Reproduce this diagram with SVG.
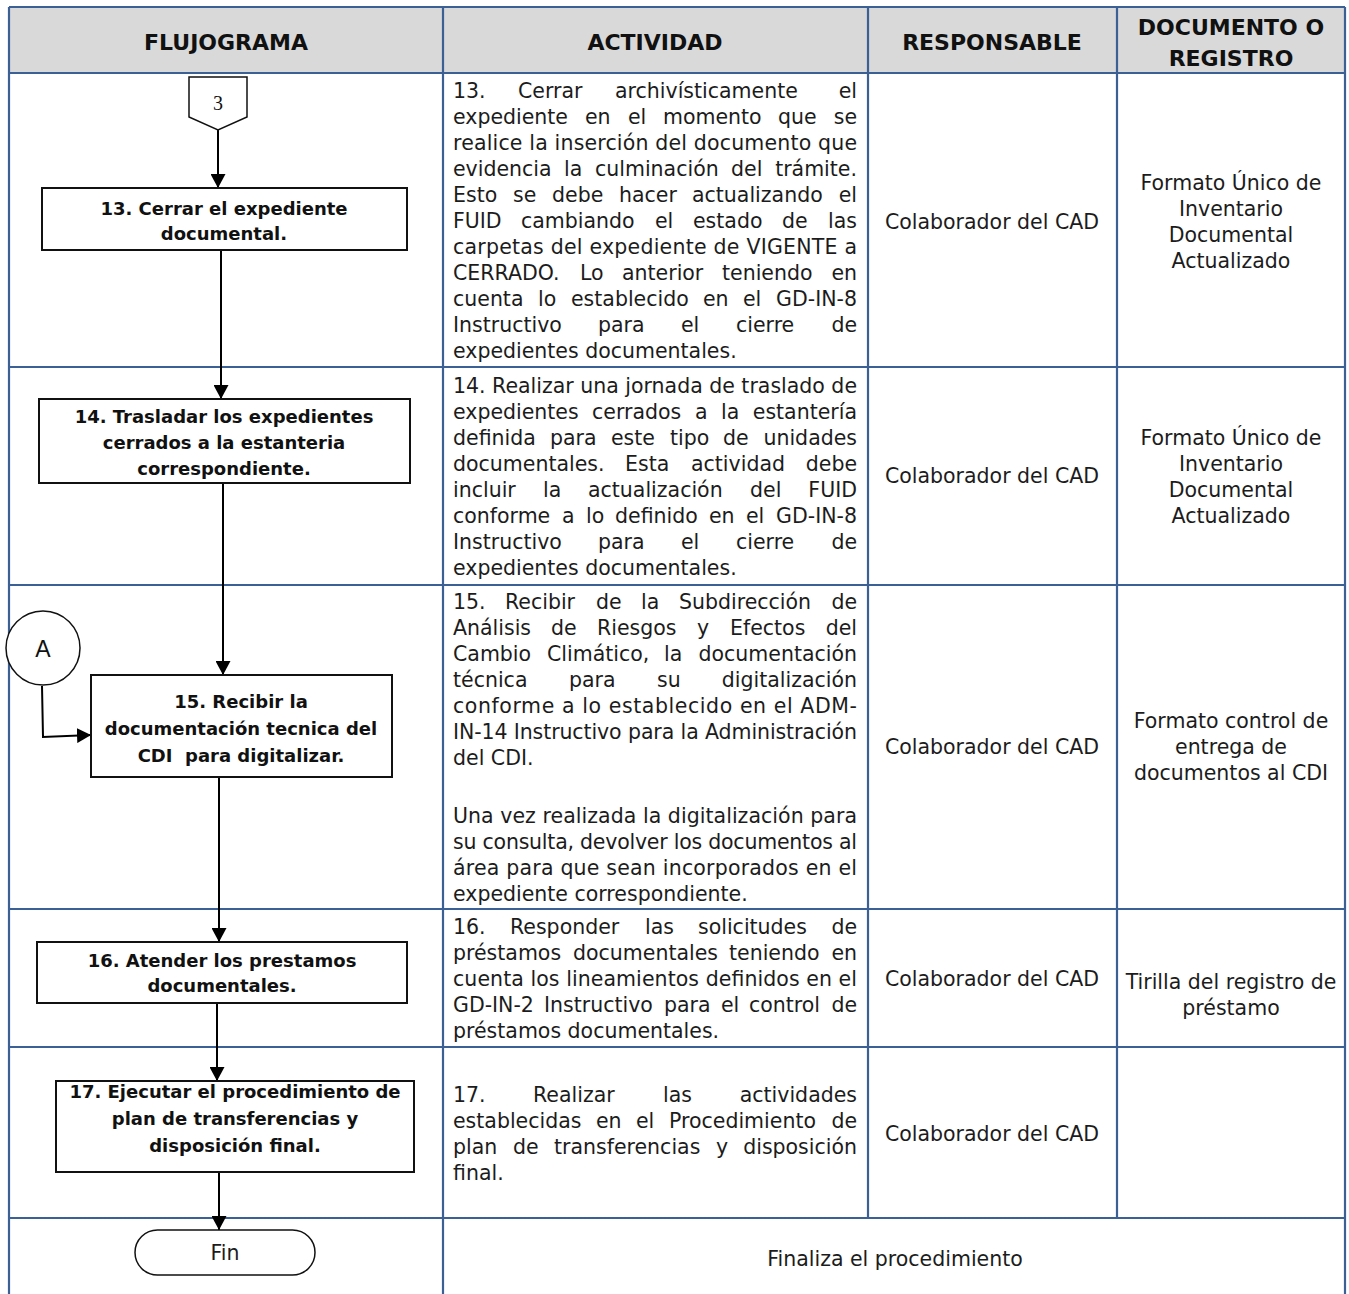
<svg xmlns="http://www.w3.org/2000/svg" width="1349" height="1294" viewBox="0 0 1349 1294">
<style>
.grid{stroke:#3a6096;stroke-width:2.2;fill:none}
.hd{font-family:"DejaVu Sans",sans-serif;font-weight:bold;font-size:22px;fill:#111;text-anchor:middle}
.b{font-family:"DejaVu Sans",sans-serif;font-size:20.5px;fill:#1c1c1c}
.c{text-anchor:middle}
.e{text-anchor:end}
.box{fill:#fff;stroke:#111;stroke-width:2}
.bt{font-family:"DejaVu Sans",sans-serif;font-weight:bold;font-size:18px;fill:#111;text-anchor:middle}
.ln{stroke:#000;stroke-width:2;fill:none;marker-end:url(#ah)}
</style>
<defs>
<marker id="ah" viewBox="0 0 14 15" refX="14" refY="7.5" markerWidth="14" markerHeight="15" markerUnits="userSpaceOnUse" orient="auto">
<path d="M0,0 L14,7.5 L0,15 z" fill="#000"/>
</marker>
</defs>
<rect x="0" y="0" width="1349" height="1294" fill="#fff"/>
<g id="table">
<rect x="9" y="7" width="1336" height="66" fill="#d9d9d9"/>
<path class="grid" d="M9,7 H1345 M9,73 H1345 M9,367 H1345 M9,585 H1345 M9,909 H1345 M9,1047 H1345 M9,1218 H1345 M9,7 V1294 M1345,7 V1294 M443,7 V1294 M868,7 V1218 M1117,7 V1218"/>
<text class="hd" x="226" y="50">FLUJOGRAMA</text>
<text class="hd" x="655" y="50">ACTIVIDAD</text>
<text class="hd" x="992" y="50">RESPONSABLE</text>
<text class="hd" x="1231" y="35">DOCUMENTO O</text>
<text class="hd" x="1231" y="66">REGISTRO</text>
</g>
<g id="actividad">
<text class="b" y="98"><tspan x="453">13.</tspan><tspan x="518">Cerrar</tspan><tspan x="615">archivísticamente</tspan><tspan x="857" class="e">el</tspan></text>
<text class="b" y="124"><tspan x="453">expediente</tspan><tspan x="585">en</tspan><tspan x="628">el</tspan><tspan x="663">momento</tspan><tspan x="778">que</tspan><tspan x="857" class="e">se</tspan></text>
<text class="b" x="453" y="150" textLength="404" lengthAdjust="spacing">realice la inserción del documento que</text>
<text class="b" y="176"><tspan x="453">evidencia</tspan><tspan x="564">la</tspan><tspan x="595">culminación</tspan><tspan x="731">del</tspan><tspan x="857" class="e">trámite.</tspan></text>
<text class="b" y="202"><tspan x="453">Esto</tspan><tspan x="513">se</tspan><tspan x="552">debe</tspan><tspan x="619">hacer</tspan><tspan x="692">actualizando</tspan><tspan x="857" class="e">el</tspan></text>
<text class="b" y="228"><tspan x="453">FUID</tspan><tspan x="521">cambiando</tspan><tspan x="655">el</tspan><tspan x="693">estado</tspan><tspan x="782">de</tspan><tspan x="857" class="e">las</tspan></text>
<text class="b" x="453" y="254" textLength="404" lengthAdjust="spacing">carpetas del expediente de VIGENTE a</text>
<text class="b" y="280"><tspan x="453">CERRADO.</tspan><tspan x="580">Lo</tspan><tspan x="622">anterior</tspan><tspan x="722">teniendo</tspan><tspan x="857" class="e">en</tspan></text>
<text class="b" y="306"><tspan x="453">cuenta</tspan><tspan x="538">lo</tspan><tspan x="571">establecido</tspan><tspan x="703">en</tspan><tspan x="743">el</tspan><tspan x="857" class="e">GD-IN-8</tspan></text>
<text class="b" y="332"><tspan x="453">Instructivo</tspan><tspan x="598">para</tspan><tspan x="681">el</tspan><tspan x="736">cierre</tspan><tspan x="857" class="e">de</tspan></text>
<text class="b" x="453" y="358">expedientes documentales.</text>

<text class="b" x="453" y="393" textLength="404" lengthAdjust="spacing">14. Realizar una jornada de traslado de</text>
<text class="b" y="419"><tspan x="453">expedientes</tspan><tspan x="592">cerrados</tspan><tspan x="695">a</tspan><tspan x="721">la</tspan><tspan x="857" class="e">estantería</tspan></text>
<text class="b" y="445"><tspan x="453">definida</tspan><tspan x="550">para</tspan><tspan x="611">este</tspan><tspan x="670">tipo</tspan><tspan x="723">de</tspan><tspan x="857" class="e">unidades</tspan></text>
<text class="b" y="471"><tspan x="453">documentales.</tspan><tspan x="625">Esta</tspan><tspan x="691">actividad</tspan><tspan x="857" class="e">debe</tspan></text>
<text class="b" y="497"><tspan x="453">incluir</tspan><tspan x="543">la</tspan><tspan x="588">actualización</tspan><tspan x="750">del</tspan><tspan x="857" class="e">FUID</tspan></text>
<text class="b" y="523"><tspan x="453">conforme</tspan><tspan x="562">a</tspan><tspan x="586">lo</tspan><tspan x="615">definido</tspan><tspan x="709">en</tspan><tspan x="746">el</tspan><tspan x="857" class="e">GD-IN-8</tspan></text>
<text class="b" y="549"><tspan x="453">Instructivo</tspan><tspan x="598">para</tspan><tspan x="681">el</tspan><tspan x="736">cierre</tspan><tspan x="857" class="e">de</tspan></text>
<text class="b" x="453" y="575">expedientes documentales.</text>

<text class="b" y="609"><tspan x="453">15.</tspan><tspan x="505">Recibir</tspan><tspan x="596">de</tspan><tspan x="641">la</tspan><tspan x="679">Subdirección</tspan><tspan x="857" class="e">de</tspan></text>
<text class="b" y="635"><tspan x="453">Análisis</tspan><tspan x="551">de</tspan><tspan x="597">Riesgos</tspan><tspan x="697">y</tspan><tspan x="730">Efectos</tspan><tspan x="857" class="e">del</tspan></text>
<text class="b" y="661"><tspan x="453">Cambio</tspan><tspan x="547">Climático,</tspan><tspan x="664">la</tspan><tspan x="857" class="e">documentación</tspan></text>
<text class="b" y="687"><tspan x="453">técnica</tspan><tspan x="569">para</tspan><tspan x="657">su</tspan><tspan x="857" class="e">digitalización</tspan></text>
<text class="b" x="453" y="713" textLength="404" lengthAdjust="spacing">conforme a lo establecido en el ADM-</text>
<text class="b" x="453" y="739" textLength="404" lengthAdjust="spacing">IN-14 Instructivo para la Administración</text>
<text class="b" x="453" y="765">del CDI.</text>
<text class="b" x="453" y="823" textLength="404" lengthAdjust="spacing">Una vez realizada la digitalización para</text>
<text class="b" x="453" y="849" textLength="404" lengthAdjust="spacing">su consulta, devolver los documentos al</text>
<text class="b" x="453" y="875" textLength="404" lengthAdjust="spacing">área para que sean incorporados en el</text>
<text class="b" x="453" y="901">expediente correspondiente.</text>

<text class="b" y="934"><tspan x="453">16.</tspan><tspan x="510">Responder</tspan><tspan x="645">las</tspan><tspan x="698">solicitudes</tspan><tspan x="857" class="e">de</tspan></text>
<text class="b" y="960"><tspan x="453">préstamos</tspan><tspan x="573">documentales</tspan><tspan x="729">teniendo</tspan><tspan x="857" class="e">en</tspan></text>
<text class="b" x="453" y="986" textLength="404" lengthAdjust="spacing">cuenta los lineamientos definidos en el</text>
<text class="b" y="1012"><tspan x="453">GD-IN-2</tspan><tspan x="544">Instructivo</tspan><tspan x="664">para</tspan><tspan x="721">el</tspan><tspan x="749">control</tspan><tspan x="857" class="e">de</tspan></text>
<text class="b" x="453" y="1038">préstamos documentales.</text>

<text class="b" y="1102"><tspan x="453">17.</tspan><tspan x="533">Realizar</tspan><tspan x="663">las</tspan><tspan x="857" class="e">actividades</tspan></text>
<text class="b" y="1128"><tspan x="453">establecidas</tspan><tspan x="596">en</tspan><tspan x="636">el</tspan><tspan x="669">Procedimiento</tspan><tspan x="857" class="e">de</tspan></text>
<text class="b" y="1154"><tspan x="453">plan</tspan><tspan x="513">de</tspan><tspan x="554">transferencias</tspan><tspan x="716">y</tspan><tspan x="857" class="e">disposición</tspan></text>
<text class="b" x="453" y="1180">final.</text>

<text class="b c" x="895" y="1266">Finaliza el procedimiento</text>
</g>
<g id="responsable">
<text class="b c" x="992" y="229">Colaborador del CAD</text>
<text class="b c" x="992" y="483">Colaborador del CAD</text>
<text class="b c" x="992" y="754">Colaborador del CAD</text>
<text class="b c" x="992" y="986">Colaborador del CAD</text>
<text class="b c" x="992" y="1141">Colaborador del CAD</text>
</g>
<g id="documento">
<text class="b c" x="1231" y="190">Formato Único de</text>
<text class="b c" x="1231" y="216">Inventario</text>
<text class="b c" x="1231" y="242">Documental</text>
<text class="b c" x="1231" y="268">Actualizado</text>
<text class="b c" x="1231" y="445">Formato Único de</text>
<text class="b c" x="1231" y="471">Inventario</text>
<text class="b c" x="1231" y="497">Documental</text>
<text class="b c" x="1231" y="523">Actualizado</text>
<text class="b c" x="1231" y="728">Formato control de</text>
<text class="b c" x="1231" y="754">entrega de</text>
<text class="b c" x="1231" y="780">documentos al CDI</text>
<text class="b c" x="1231" y="989">Tirilla del registro de</text>
<text class="b c" x="1231" y="1015">préstamo</text>
</g>
<g id="connectors">
<path class="ln" d="M218,130 V188"/>
<path class="ln" d="M221,250 V399"/>
<path class="ln" d="M223,483 V675"/>
<path class="ln" d="M42,686 L43,737 L91,735"/>
<path class="ln" d="M219,777 V942"/>
<path class="ln" d="M217,1003 V1081"/>
<path class="ln" d="M219,1172 V1230"/>
</g>
<g id="offpage-3">
<path d="M189,77 H247 V117 L218,130 L189,117 Z" fill="#fff" stroke="#111" stroke-width="1.5"/>
<text x="218" y="110" text-anchor="middle" font-family="Liberation Serif, serif" font-size="20" fill="#111">3</text>
</g>
<g id="node-13">
<rect class="box" x="42" y="188" width="365" height="62"/>
<text class="bt" x="224" y="215">13. Cerrar el expediente</text>
<text class="bt" x="224" y="240">documental.</text>
</g>
<g id="node-14">
<rect class="box" x="39" y="399" width="371" height="84"/>
<text class="bt" x="224" y="423">14. Trasladar los expedientes</text>
<text class="bt" x="224" y="449">cerrados a la estanteria</text>
<text class="bt" x="224" y="475">correspondiente.</text>
</g>
<g id="connector-A">
<circle cx="43" cy="648" r="37" fill="#fff" stroke="#111" stroke-width="1.5"/>
<text x="43" y="657" text-anchor="middle" font-family="Liberation Sans, sans-serif" font-size="23" fill="#111">A</text>
</g>
<g id="node-15">
<rect class="box" x="91" y="675" width="301" height="102"/>
<text class="bt" x="241" y="708">15. Recibir la</text>
<text class="bt" x="241" y="735">documentación tecnica del</text>
<text class="bt" x="241" y="762">CDI&#160; para digitalizar.</text>
</g>
<g id="node-16">
<rect class="box" x="37" y="942" width="370" height="61"/>
<text class="bt" x="222" y="967">16. Atender los prestamos</text>
<text class="bt" x="222" y="992">documentales.</text>
</g>
<g id="node-17">
<rect class="box" x="56" y="1081" width="358" height="91"/>
<text class="bt" x="235" y="1098">17. Ejecutar el procedimiento de</text>
<text class="bt" x="235" y="1125">plan de transferencias y</text>
<text class="bt" x="235" y="1152">disposición final.</text>
</g>
<g id="fin">
<rect x="135" y="1230" width="180" height="45" rx="22.5" fill="#fff" stroke="#111" stroke-width="1.5"/>
<text class="b c" x="225" y="1260">Fin</text>
</g>
</svg>
